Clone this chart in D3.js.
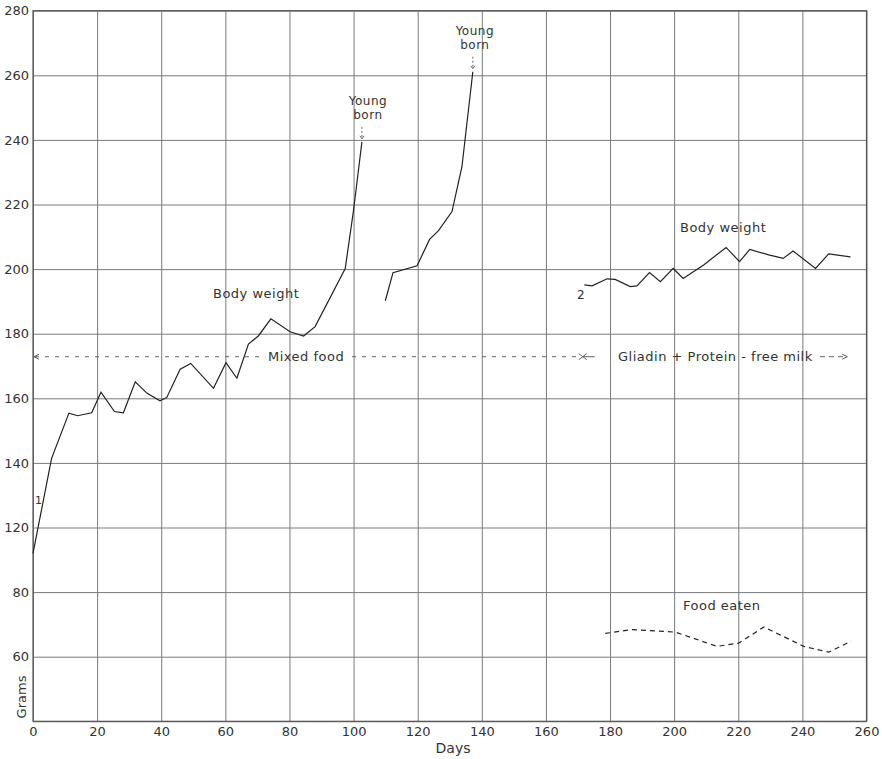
<!DOCTYPE html>
<html><head><meta charset="utf-8">
<script src="https://cdn.jsdelivr.net/npm/d3@7"></script>
<style>
body{margin:0;background:#fff;}
text{font-family:"DejaVu Sans",sans-serif;fill:#333;}
</style></head>
<body><svg id="c" width="882" height="759"></svg>
<script>
// ---- data ----
const weight1Days = [0, 5.8, 11.2, 13.9, 18.3, 21.2, 25.4, 28.2, 31.9, 35.5, 39.6, 41.7, 45.9, 49.2, 56.3, 60.2, 63.6, 67.2, 70.3, 74.2, 80.2, 84.4, 88, 97.4, 100, 102.6];
const weight1Vals = [112, 141.4, 155.4, 154.6, 155.5, 161.9, 155.9, 155.5, 165.1, 161.6, 159.2, 160.2, 169.0, 170.8, 163.1, 171.0, 166.2, 176.8, 179.3, 184.6, 180.6, 179.3, 182.2, 200.2, 218.3, 239.4];
const weight2Days = [109.9, 112.3, 119.8, 123.7, 126.5, 130.7, 133.8, 137.2];
const weight2Vals = [190.2, 198.9, 201.0, 209.2, 211.9, 217.8, 231.7, 261.1];
const weight3Days = [172, 174.4, 179.1, 181.6, 186.3, 188.4, 192.3, 195.7, 199.7, 202.8, 209.2, 216.2, 220.4, 223.6, 229.5, 234, 237.1, 244.1, 248.2, 255];
const weight3Vals = [195.1, 194.8, 197.0, 196.8, 194.6, 194.8, 198.9, 196.1, 200.2, 197.1, 201.3, 206.7, 202.3, 206.1, 204.4, 203.3, 205.6, 200.2, 204.7, 203.8];
const foodDays = [178.5, 186.9, 200.4, 213.4, 220.1, 228, 240.4, 248.2, 255.2];
const foodVals = [67.2, 68.4, 67.6, 63.2, 64.2, 69.2, 63.2, 61.4, 64.8];
const xTicks = [0,20,40,60,80,100,120,140,160,180,200,220,240,260];
const weightTicks = [120,140,160,180,200,220,240,260,280];
const foodTicks = [60,80];
const gridWeights = [60,80,100,120,140,160,180,200,220,240,260,280];
const youngBorn = [{day:102.6, val:239.4}, {day:137.2, val:261.1}];
const mixedFoodEnd = 171.5;   // day diet changes
const dietEnd = 254;

// ---- scales ----
const svg = d3.select("#c");
const x = d3.scaleLinear().domain([0,260]).range([33,866.5]);
const yW = d3.scaleLinear().domain([60,280]).range([721.3,10.7]);
const yF = d3.scaleLinear().domain([40,260]).range([721.3,10.7]);
const grid = "#7a7a7a";

// grid via axes
svg.append("g").attr("transform",`translate(0,${yW(60)})`)
  .call(d3.axisBottom(x).tickValues(xTicks).tickSize(-(yW(60)-yW(280))).tickFormat(""))
  .call(g=>g.select(".domain").remove())
  .call(g=>g.selectAll("line").attr("stroke",grid).attr("stroke-width",1));
svg.append("g").attr("transform",`translate(${x(0)},0)`)
  .call(d3.axisLeft(yW).tickValues(gridWeights).tickSize(-(x(260)-x(0))).tickFormat(""))
  .call(g=>g.select(".domain").remove())
  .call(g=>g.selectAll("line").attr("stroke",grid).attr("stroke-width",1));
svg.append("rect").attr("x",x(0)).attr("y",yW(280)).attr("width",x(260)-x(0)).attr("height",yW(60)-yW(280))
  .attr("fill","none").attr("stroke","#555").attr("stroke-width",1.2);

// tick labels
const tickFont = 13;
const styleTicks = g=>g.selectAll("text").style("font-size",tickFont+"px").style("font-family","DejaVu Sans").attr("fill","#333");
svg.append("g").attr("transform",`translate(0,${yW(60)})`)
  .call(d3.axisBottom(x).tickValues(xTicks).tickSize(0).tickPadding(5))
  .call(g=>g.select(".domain").remove()).call(styleTicks);
svg.append("g").attr("transform",`translate(${x(0)},0)`)
  .call(d3.axisLeft(yW).tickValues(weightTicks).tickSize(0).tickPadding(4))
  .call(g=>g.select(".domain").remove()).call(styleTicks);
svg.append("g").attr("transform",`translate(${x(0)},0)`)
  .call(d3.axisLeft(yF).tickValues(foodTicks).tickSize(0).tickPadding(4))
  .call(g=>g.select(".domain").remove()).call(styleTicks);

svg.append("text").attr("transform","translate(26,697) rotate(-90)").attr("text-anchor","middle")
  .style("font-size","13px").text("Grams");
svg.append("text").attr("x",453).attr("y",753).attr("text-anchor","middle").style("font-size","14px").text("Days");

// lines
const lineW = d3.line().x(d=>x(d[0])).y(d=>yW(d[1]));
const lineF = d3.line().x(d=>x(d[0])).y(d=>yF(d[1]));
const z = (a,b)=>a.map((d,i)=>[d,b[i]]);
[[weight1Days,weight1Vals],[weight2Days,weight2Vals],[weight3Days,weight3Vals]].forEach(([a,b])=>{
  svg.append("path").attr("d",lineW(z(a,b))).attr("fill","none").attr("stroke","#222").attr("stroke-width",1.2);
});
svg.append("path").attr("d",lineF(z(foodDays,foodVals))).attr("fill","none").attr("stroke","#222")
  .attr("stroke-width",1.2).attr("stroke-dasharray","5,4");

// annotations
const lab = (t,px,py,fs=13,anchor="start")=>svg.append("text").attr("x",px).attr("y",py)
  .attr("text-anchor",anchor).style("font-size",fs+"px").style("letter-spacing","0.5px").text(t);
lab("Body weight",213,298);
lab("Body weight",680,232);
lab("Food eaten",683,610);
lab("1",35,504,11);
lab("2",577,299,12);
youngBorn.forEach((d,i)=>{
  const cx = x(d.day)+(i===0?6:2), top = yW(d.val);
  lab("Young",cx,top-37,12,"middle");
  lab("born",cx,top-23,12,"middle");
  svg.append("line").attr("x1",x(d.day)).attr("x2",x(d.day)).attr("y1",top-15).attr("y2",top-3)
    .attr("stroke","#444").attr("stroke-width",0.8).attr("stroke-dasharray","2,2");
  svg.append("path").attr("d",`M${x(d.day)-2},${top-6}L${x(d.day)},${top-3}L${x(d.day)+2},${top-6}`)
    .attr("fill","none").attr("stroke","#444").attr("stroke-width",0.8);
});

// diet bar
const dy = 356.7;
svg.append("line").attr("x1",x(0)+2).attr("x2",x(72.5)).attr("y1",dy).attr("y2",dy)
  .attr("stroke","#555").attr("stroke-width",0.9).attr("stroke-dasharray","4,6");
svg.append("path").attr("d",`M${x(0)+6},${dy-2.5}L${x(0)+1},${dy}L${x(0)+6},${dy+2.5}`).attr("fill","none").attr("stroke","#555");
lab("Mixed food",268,361);
svg.append("line").attr("x1",352).attr("x2",x(mixedFoodEnd)-6).attr("y1",dy).attr("y2",dy)
  .attr("stroke","#555").attr("stroke-width",0.9).attr("stroke-dasharray","4,6");
const xm = x(mixedFoodEnd);
svg.append("path").attr("d",`M${xm-4},${dy-3}L${xm},${dy}L${xm-4},${dy+3}M${xm+4},${dy-3}L${xm},${dy}L${xm+4},${dy+3}M${xm},${dy}L${xm+12},${dy}`)
  .attr("fill","none").attr("stroke","#555").attr("stroke-width",0.9);
lab("Gliadin + Protein - free milk",618,361);
svg.append("line").attr("x1",820).attr("x2",x(dietEnd)).attr("y1",dy).attr("y2",dy)
  .attr("stroke","#555").attr("stroke-width",0.9).attr("stroke-dasharray","5,4");
svg.append("path").attr("d",`M${x(dietEnd)-5},${dy-2.5}L${x(dietEnd)},${dy}L${x(dietEnd)-5},${dy+2.5}`).attr("fill","none").attr("stroke","#555");
</script></body></html>
